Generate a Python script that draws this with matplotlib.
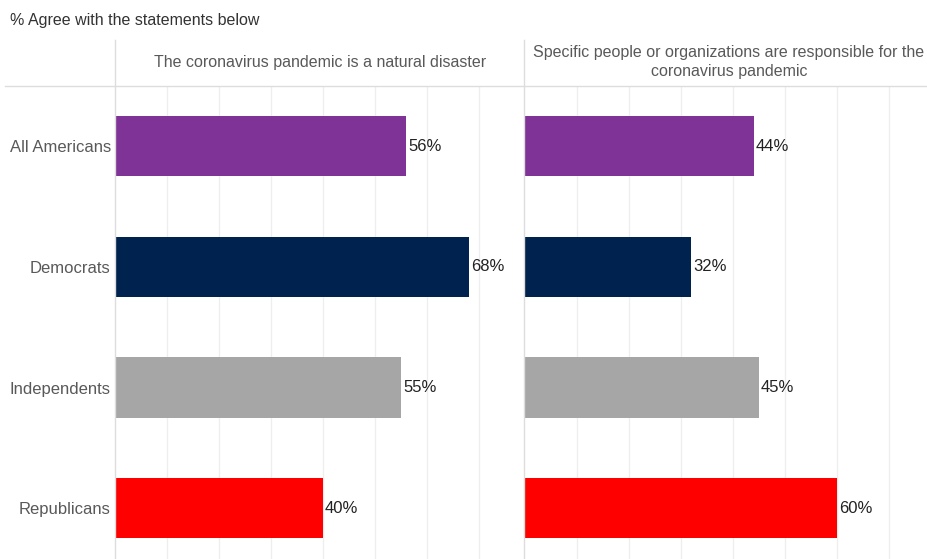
import matplotlib.pyplot as plt
from matplotlib.lines import Line2D

plt.rcParams['font.family'] = ['Liberation Sans', 'DejaVu Sans']

groups = ["All Americans", "Democrats", "Independents", "Republicans"]
natural_disaster = [56, 68, 55, 40]
responsible = [44, 32, 45, 60]
colors = ["#7f3397", "#00224f", "#a6a6a6", "#ff0000"]
panel_titles = [
    "The coronavirus pandemic is a natural disaster",
    "Specific people or organizations are responsible for the\ncoronavirus pandemic",
]
title = "% Agree with the statements below"

W, H = 928, 559
fig = plt.figure(figsize=(W / 100, H / 100), dpi=100)


def fx(px):
    return px / W


def fy(py):
    return 1 - py / H


grid_c = "#eeeeee"
axis_c = "#dddddd"
top, bottom = 86, 559
panels = [(115, 524, natural_disaster), (525, 928, responsible)]

for k, (x0, x1, vals) in enumerate(panels):
    ax = fig.add_axes([fx(x0), fy(bottom), fx(x1 - x0), (bottom - top) / H])
    ax.set_xlim(0, (x1 - x0) / 5.2)
    ax.set_ylim(3.42, -0.5)
    ax.barh(range(len(groups)), vals, height=0.5, color=colors, zorder=2)
    for i, v in enumerate(vals):
        ax.text(v + 0.4, i, f"{v}%", va="center", ha="left",
                fontsize=12, color="#222222")
    for g in range(10, 80, 10):
        ax.axvline(g, color=grid_c, linewidth=0.9, zorder=0)
    ax.set_xticks([])
    for s in ax.spines.values():
        s.set_visible(False)
    if k == 0:
        ax.set_yticks(range(len(groups)))
        ax.set_yticklabels(groups, fontsize=12, color="#595959")
        ax.tick_params(axis="y", length=0, pad=3)
    else:
        ax.set_yticks([])

# header structure
fig.add_artist(Line2D([fx(5), fx(928)], [fy(86), fy(86)], color=axis_c, lw=1))
for x in (115, 524):
    fig.add_artist(Line2D([fx(x), fx(x)], [fy(40), fy(559)], color=axis_c, lw=1))

fig.text(fx(320), fy(62), panel_titles[0], ha="center", va="center",
         fontsize=11.5, color="#595959")
fig.text(fx(729), fy(62), panel_titles[1], ha="center", va="center",
         fontsize=11.5, color="#595959", linespacing=1.3)
fig.text(fx(10), fy(20), title, ha="left", va="center",
         fontsize=11.5, color="#333333")

fig.savefig("out.png", dpi=100)
